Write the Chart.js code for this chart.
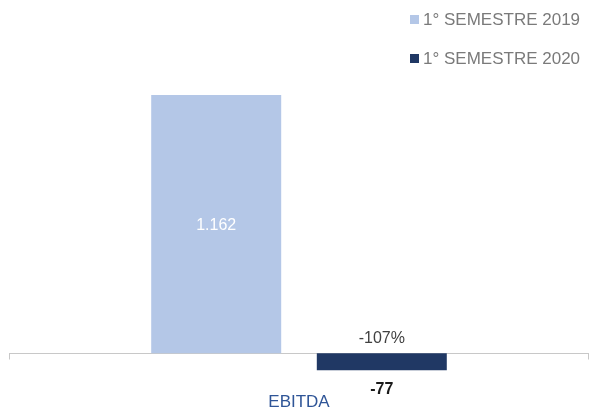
<!DOCTYPE html>
<html><head><meta charset="utf-8">
<script src="https://cdn.jsdelivr.net/npm/chart.js@4/dist/chart.umd.min.js"></script>
<style>
html,body{margin:0;padding:0;background:#fff;}
#wrap{position:relative;width:594px;height:412px;}
#legend{position:absolute;left:410px;top:10px;font-family:'Liberation Sans',Arial,sans-serif;font-size:17px;color:#7a7a7a;line-height:20px;}
#legend div{height:20px;margin-bottom:19px;white-space:nowrap;}
#legend span.sw{display:inline-block;width:9px;height:9px;margin-right:4px;vertical-align:1px;}
</style></head>
<body>
<div id="wrap">
<canvas id="c" width="594" height="412"></canvas>
<div id="legend"></div>
</div>
<script>
const categories = ['EBITDA'];
const seriesNames = ['1° SEMESTRE 2019', '1° SEMESTRE 2020'];
const values2019 = [1162];
const values2020 = [-77];
const variationLabels = ['-107%'];
const colors = ['#B4C7E7', '#203864'];

function fmt(v){
  const s = Math.abs(v).toString().replace(/\B(?=(\d{3})+(?!\d))/g, '.');
  return (v < 0 ? '-' : '') + s;
}

// HTML legend
const lg = document.getElementById('legend');
seriesNames.forEach((n, i) => {
  const d = document.createElement('div');
  const sw = document.createElement('span');
  sw.className = 'sw'; sw.style.background = colors[i];
  d.appendChild(sw);
  d.appendChild(document.createTextNode(n));
  lg.appendChild(d);
});

const labelPlugin = {
  id: 'labels',
  beforeDatasetsDraw(chart) {
    const ctx = chart.ctx, y = chart.scales.y, a = chart.chartArea;
    const y0 = Math.round(y.getPixelForValue(0)) + 0.5;
    ctx.save();
    ctx.strokeStyle = '#c8c8c8';
    ctx.lineWidth = 1;
    ctx.beginPath();
    ctx.moveTo(a.left, y0); ctx.lineTo(a.right, y0);
    ctx.moveTo(a.left + 0.5, y0); ctx.lineTo(a.left + 0.5, y0 + 6);
    ctx.moveTo(a.right - 0.5, y0); ctx.lineTo(a.right - 0.5, y0 + 6);
    ctx.stroke();
    ctx.restore();
  },
  afterDatasetsDraw(chart) {
    const ctx = chart.ctx;
    ctx.save();
    ctx.textAlign = 'center';
    ctx.textBaseline = 'middle';
    const m0 = chart.getDatasetMeta(0), m1 = chart.getDatasetMeta(1);
    m0.data.forEach((bar, i) => {
      ctx.font = '16px "Liberation Sans", Arial, sans-serif';
      ctx.fillStyle = '#ffffff';
      ctx.fillText(fmt(values2019[i]), bar.x, (bar.y + bar.base) / 2 + 1);
    });
    m1.data.forEach((bar, i) => {
      ctx.font = 'bold 16px "Liberation Sans", Arial, sans-serif';
      ctx.fillStyle = '#1a1a1a';
      ctx.fillText(fmt(values2020[i]), bar.x, bar.y + 19);
      ctx.font = '16px "Liberation Sans", Arial, sans-serif';
      ctx.fillStyle = '#404040';
      ctx.fillText(variationLabels[i], bar.x, bar.base - 15);
    });
    ctx.restore();
  }
};

new Chart(document.getElementById('c'), {
  type: 'bar',
  data: {
    labels: categories,
    datasets: [
      { label: seriesNames[0], data: values2019, backgroundColor: colors[0] },
      { label: seriesNames[1], data: values2020, backgroundColor: colors[1] }
    ]
  },
  options: {
    responsive: false,
    animation: false,
    devicePixelRatio: 1,
    categoryPercentage: 0.571,
    barPercentage: 0.785,
    layout: { padding: { top: 80, left: 9, right: 5, bottom: 0 } },
    plugins: { legend: { display: false }, tooltip: { enabled: false } },
    scales: {
      x: {
        grid: { display: false, drawTicks: false },
        border: { display: false },
        ticks: { color: '#2F5597', padding: 0, font: { family: '"Liberation Sans", Arial, sans-serif', size: 17 } },
        afterFit(s) { s.height = 20; }
      },
      y: {
        display: false,
        min: -175,
        max: 1230
      }
    }
  },
  plugins: [labelPlugin]
});
</script>
</body></html>
